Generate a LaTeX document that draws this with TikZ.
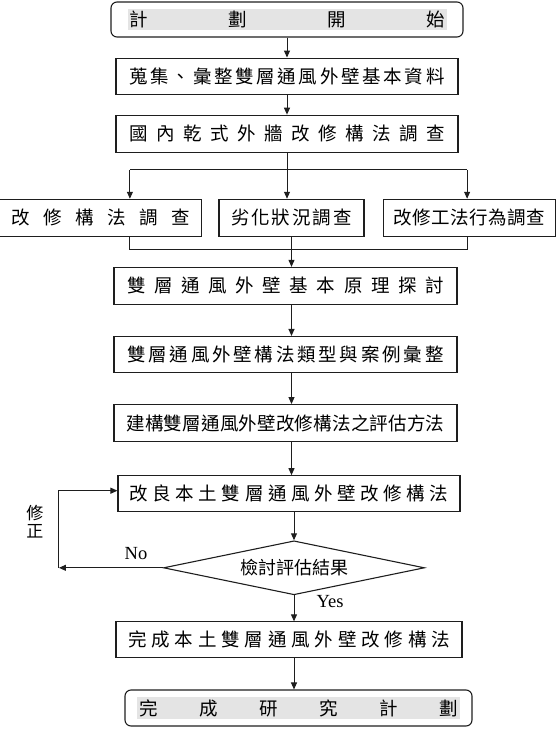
\documentclass[tikz,border=0pt]{standalone}
\usepackage{fontspec}
\setmainfont{Noto Sans CJK TC}
\newfontfamily\latinfont{Liberation Serif}
\usetikzlibrary{positioning,shapes.geometric,arrows.meta}
\definecolor{ink}{HTML}{1E1E1E}
\definecolor{band}{HTML}{E4E4E4}
% spread characters evenly over a given width
\def\spreadgo#1{#1\spreadnext}
\def\spreadnext#1{\ifx\relax#1\else\hfill#1\expandafter\spreadnext\fi}
\newcommand{\spreadtext}[2]{\makebox[#1][s]{\spreadgo#2\relax}}
\newcommand{\bandtext}[2]{{\setlength{\fboxsep}{2pt}\colorbox{band}{\spreadtext{#1}{#2}}}}

\begin{document}
\begin{tikzpicture}[
  x=1pt, y=-1pt,
  font=\fontsize{18.5pt}{20pt}\selectfont,
  box/.style={draw=ink, line width=1.1pt, inner sep=0pt, minimum height=36pt},
  endbox/.style={box, rounded corners=6pt},
  decide/.style={diamond, draw=ink, line width=1.1pt, inner sep=0pt, aspect=4.8, minimum width=261pt, minimum height=54pt, font=\fontsize{18pt}{20pt}\selectfont},
  arr/.style={-{Triangle[length=7pt,width=6pt]}, ink, line width=1pt},
  link/.style={ink, line width=1pt},
  yn/.style={font=\latinfont\fontsize{18.5pt}{18pt}\selectfont, inner sep=0pt},
]

\useasboundingbox (0,0) rectangle (556,744);

% top of the column
\node[endbox, minimum width=352pt, minimum height=35pt] (start) at (287,19.5) {\bandtext{315pt}{計劃開始}};
\node[box, minimum width=342pt, below=20pt of start] (collect) {\spreadtext{315pt}{蒐集、彙整雙層通風外壁基本資料}};
\node[box, minimum width=342pt, minimum height=37pt, below=20pt of collect] (survey) {\spreadtext{315pt}{國內乾式外牆改修構法調查}};

\draw[arr] (start.south) -- (start.south |- collect.north);
\draw[arr] (collect.south) -- (collect.south |- survey.north);

% three surveys
\node[box, minimum width=145pt, minimum height=37pt, below=46pt of survey, xshift=4.5pt] (decay) {\spreadtext{121pt}{劣化狀況調查}};
\node[box, minimum width=202pt, minimum height=37pt, left=16pt of decay] (method) {\spreadtext{179pt}{改修構法調查}};
\node[box, minimum width=172pt, minimum height=37pt, right=18pt of decay] (work) {\spreadtext{152pt}{改修工法行為調查}};

\coordinate (split) at ([yshift=-17pt]survey.south);
\coordinate (merge) at ([yshift=-13pt]decay.south);

\draw[arr] (survey.south) -- (survey.south |- decay.north);
\draw[link] ([xshift=29pt]method.north |- split) -- ([xshift=-2pt]work.north |- split);
\draw[arr] ([xshift=29pt]method.north |- split) -- ([xshift=29pt]method.north);
\draw[arr] ([xshift=-2pt]work.north |- split) -- ([xshift=-2pt]work.north);
\draw[link] ([xshift=29pt]method.south) -- ([xshift=29pt]method.south |- merge)
  -- ([xshift=-2pt]work.south |- merge) -- ([xshift=-2pt]work.south);

% study and method
\node[box, minimum width=343pt, minimum height=37pt, below=30pt of decay, xshift=-6pt] (theory) {\spreadtext{317pt}{雙層通風外壁基本原理探討}};
\node[box, minimum width=343pt, below=31pt of theory] (types) {\spreadtext{316pt}{雙層通風外壁構法類型與案例彙整}};
\node[box, minimum width=343pt, minimum height=37pt, below=31pt of types] (evalm) {\spreadtext{318pt}{建構雙層通風外壁改修構法之評估方法}};
\node[box, minimum width=342pt, below=33pt of evalm, xshift=3.5pt] (improve) {\spreadtext{319pt}{改良本土雙層通風外壁改修構法}};

\draw[arr] (decay.south) -- (decay.south |- theory.north);
\draw[arr] (theory.south -| decay) -- (types.north -| decay);
\draw[arr] (types.south -| decay) -- (evalm.north -| decay);
\draw[arr] (evalm.south -| decay) -- (improve.north -| decay);

% check loop
\node[decide, below=28pt of improve, xshift=5pt] (check) {檢討評估結果};
\coordinate (back) at ([xshift=-104pt]check.west);

\draw[arr] (improve.south -| check) -- (check.north);
\draw[arr] (check.west) -- (back);
\draw[arr] (back) |- ([yshift=3pt]improve.west);

\node[yn, anchor=base] (no) at ([xshift=-27pt,yshift=8pt]check.west) {No};
\node[yn, anchor=base] (yes) at ([xshift=36pt,yshift=-12pt]check.south) {Yes};
\node[font=\fontsize{17pt}{18pt}\selectfont, align=center, inner sep=0pt] (fix) at ([xshift=-24pt,yshift=46pt]back) {修\\正};

% finish
\node[box, minimum width=346pt, below=26pt of check, xshift=-5pt] (finish) {\spreadtext{322pt}{完成本土雙層通風外壁改修構法}};
\node[endbox, minimum width=347pt, below=31pt of finish, xshift=9.5pt] (close) {\bandtext{319pt}{完成研究計劃}};

\draw[arr] (check.south) -- (check.south |- finish.north);
\draw[arr] (finish.south -| check) -- (close.north -| check);

\end{tikzpicture}
\end{document}
